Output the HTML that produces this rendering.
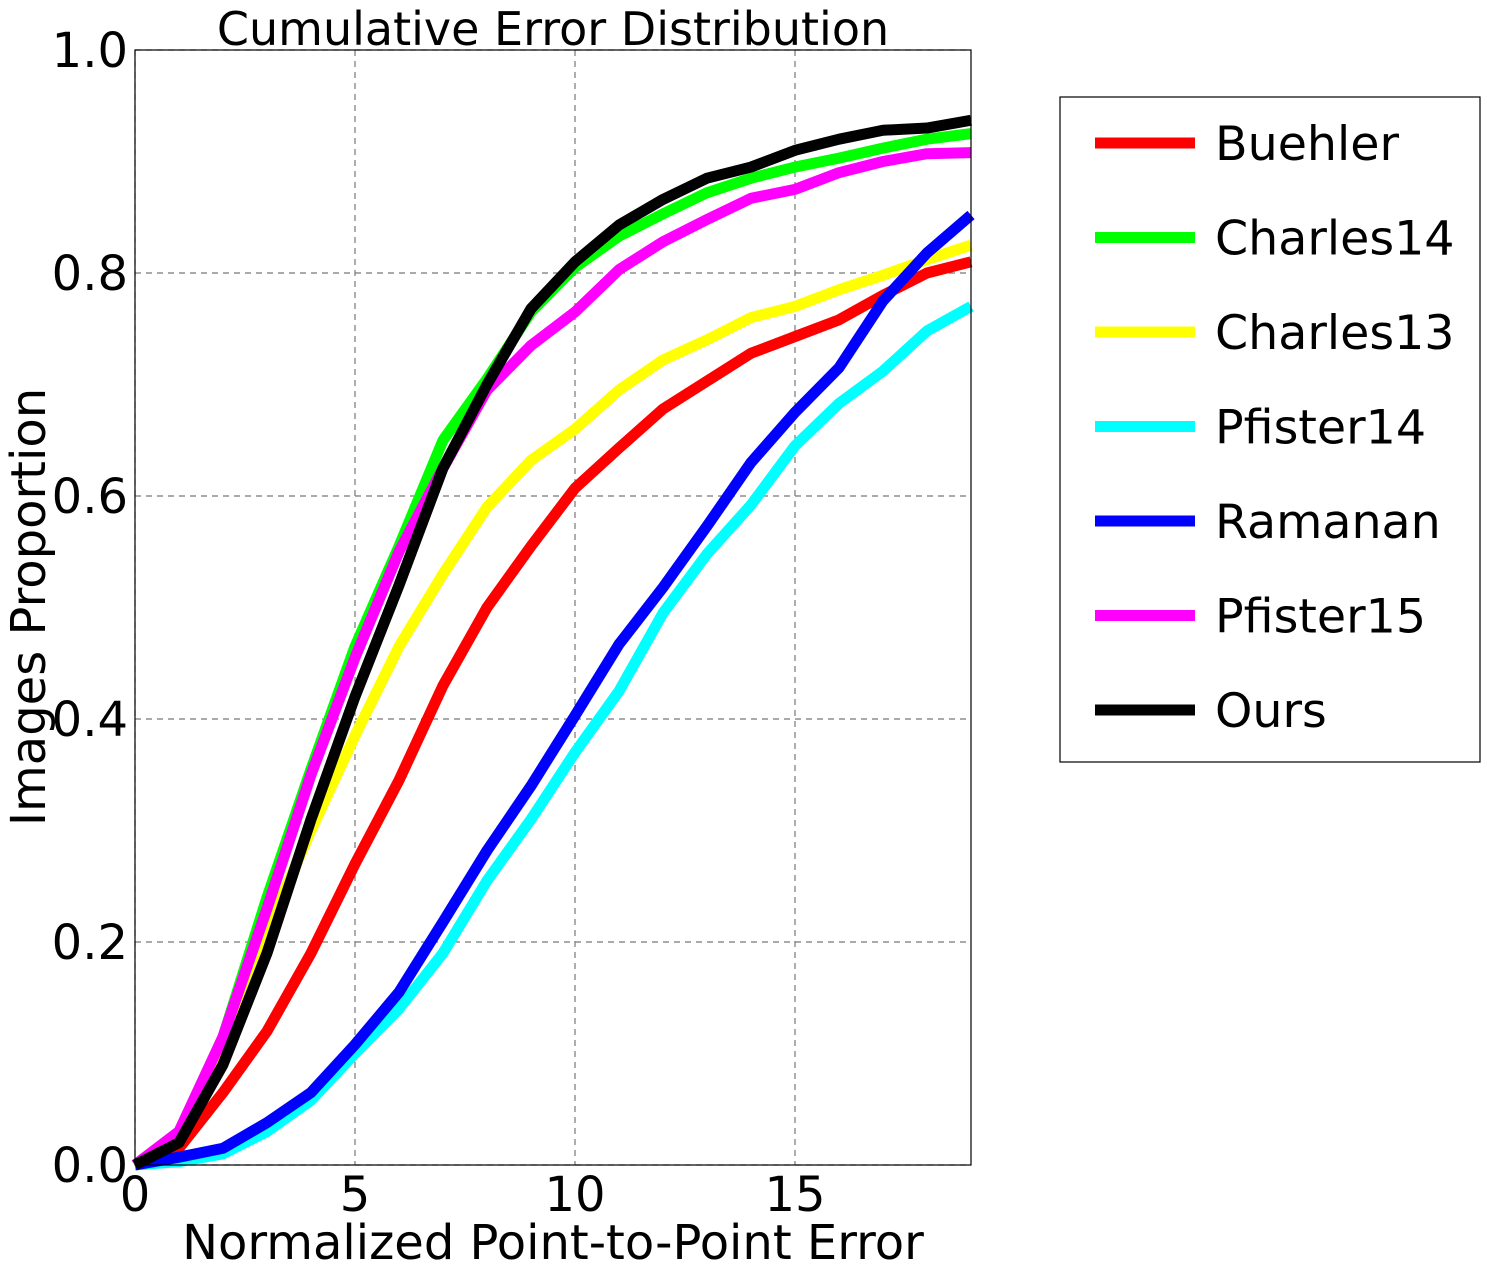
<!DOCTYPE html>
<html><head><meta charset="utf-8"><style>
html,body{margin:0;padding:0;background:#fff;}
svg{display:block;font-family:"DejaVu Sans","Liberation Sans",sans-serif;}
</style></head><body>
<svg id="chart" width="1487" height="1275" viewBox="0 0 1487 1275">
<rect width="1487" height="1275" fill="#fff"/>
<g id="grid"></g>
<g id="series"></g>
<rect x="135" y="50" width="836" height="1115" fill="none" stroke="#000" stroke-width="1.2"/>
<g id="ticks"></g>
<text x="553" y="45" font-size="46" text-anchor="middle">Cumulative Error Distribution</text>
<text x="553" y="1259" font-size="48" text-anchor="middle">Normalized Point-to-Point Error</text>
<text transform="translate(45,607) rotate(-90)" font-size="48" text-anchor="middle">Images Proportion</text>
<g id="legend">
<rect x="1060" y="97" width="420" height="665" fill="#fff" stroke="#000" stroke-width="1.2"/>
</g>
</svg>
<script>
const xValues=[0,1,2,3,4,5,6,7,8,9,10,11,12,13,14,15,16,17,18,19];
const seriesNames=["Buehler","Charles14","Charles13","Pfister14","Ramanan","Pfister15","Ours"];
const seriesColors=["#ff0000","#00ff00","#ffff00","#00ffff","#0000ff","#ff00ff","#000000"];
const buehler=[0,0.015,0.065,0.12,0.19,0.27,0.345,0.43,0.5,0.555,0.607,0.643,0.678,0.703,0.728,0.743,0.758,0.78,0.8,0.81];
const charles14=[0,0.03,0.115,0.24,0.355,0.465,0.555,0.65,0.705,0.765,0.805,0.833,0.853,0.872,0.885,0.895,0.903,0.912,0.92,0.925];
const charles13=[0,0.025,0.1,0.21,0.3,0.385,0.465,0.53,0.59,0.632,0.66,0.695,0.722,0.74,0.76,0.77,0.785,0.798,0.812,0.825];
const pfister14=[0,0.003,0.01,0.03,0.058,0.1,0.14,0.19,0.255,0.31,0.37,0.425,0.495,0.548,0.592,0.645,0.683,0.712,0.748,0.77];
const ramanan=[0,0.007,0.015,0.038,0.065,0.108,0.155,0.218,0.282,0.34,0.403,0.467,0.518,0.573,0.63,0.675,0.715,0.775,0.818,0.852];
const pfister15=[0,0.03,0.115,0.23,0.35,0.455,0.55,0.625,0.695,0.735,0.765,0.803,0.828,0.848,0.867,0.875,0.89,0.9,0.907,0.908];
const ours=[0,0.02,0.09,0.19,0.31,0.42,0.52,0.625,0.7,0.768,0.81,0.843,0.866,0.885,0.895,0.91,0.92,0.928,0.93,0.937];
const xTicks=[0,5,10,15];
const yTicks=[0,0.2,0.4,0.6,0.8,1.0];
const yTickLabels=["0.0","0.2","0.4","0.6","0.8","1.0"];
const allSeries=[buehler,charles14,charles13,pfister14,ramanan,pfister15,ours];
const NS="http://www.w3.org/2000/svg";
const X0=135,X1=971,Y0=1165,Y1=50,XMAX=19;
function sx(v){return X0+(X1-X0)*v/XMAX;}
function sy(v){return Y0-(Y0-Y1)*v;}
function mk(tag,attrs,parent){const e=document.createElementNS(NS,tag);for(const k in attrs)e.setAttribute(k,attrs[k]);parent.appendChild(e);return e;}
const grid=document.getElementById('grid'),ticks=document.getElementById('ticks'),ser=document.getElementById('series'),leg=document.getElementById('legend');
xTicks.forEach((t,i)=>{
  const l=mk('line',{x1:sx(t),x2:sx(t),y1:Y1,y2:Y0,stroke:'#777','stroke-width':1.2,'stroke-dasharray':'6,5'},grid);
  
  
  const tx=mk('text',{x:sx(t),y:1211,'font-size':48,'text-anchor':'middle'},ticks);
  tx.textContent=String(t);
  
  
});
yTicks.forEach((t,i)=>{
  const l=mk('line',{x1:X0,x2:X1,y1:sy(t),y2:sy(t),stroke:'#777','stroke-width':1.2,'stroke-dasharray':'6,5'},grid);
  
  
  const tx=mk('text',{x:128,y:sy(t)+17,'font-size':48,'text-anchor':'end'},ticks);
  tx.textContent=yTickLabels[i];
  
  
});
allSeries.forEach((s,i)=>{
  const pts=s.map((v,j)=>sx(xValues[j])+','+sy(v)).join(' ');
  const p=mk('polyline',{points:pts,fill:'none',stroke:seriesColors[i],'stroke-width':11,'stroke-linejoin':'round'},ser);
  
  
  const ly=143+i*94.5;
  const ll=mk('line',{x1:1095,x2:1195,y1:ly,y2:ly,stroke:seriesColors[i],'stroke-width':11},leg);
  
  
  const lt=mk('text',{x:1215,y:ly+17,'font-size':47.5},leg);
  lt.textContent=seriesNames[i];
  
  
});
</script>
</body></html>
